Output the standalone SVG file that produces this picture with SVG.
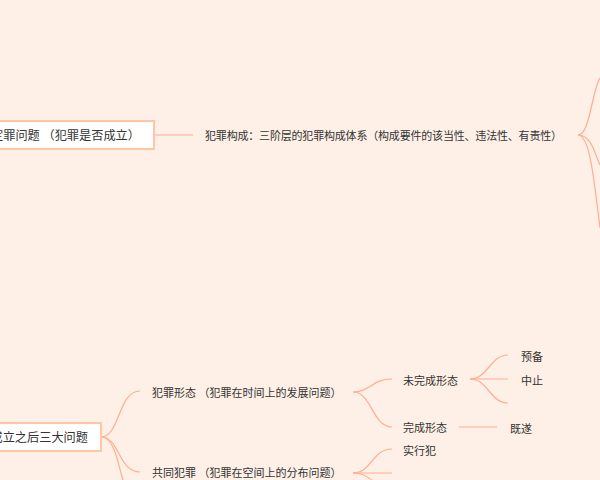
<svg xmlns="http://www.w3.org/2000/svg" width="600" height="480" viewBox="0 0 600 480">
<style>
.t{font-family:"Noto Sans CJK SC","Liberation Sans",sans-serif;font-size:11px;fill:#333;dominant-baseline:central}
.b{font-size:12.2px}
.box{fill:#fff;stroke:#ffc5a5;stroke-width:2}
.c path{fill:none;stroke:#fdae91;stroke-width:1.2}
</style>
<rect width="600" height="480" fill="#fef0e6"/>
<g class="c" id="connectors">
<path d="M154,135H193"/>
<path d="M578,135C590,135 592,90 600,78"/>
<path d="M578,135C592,135 595,155 600,165"/>
<path d="M578,135C590,135 594,180 600,228"/>
<path d="M101,437C120,437 118,391 140,391"/>
<path d="M101,437C120,437 118,472 140,472"/>
<path d="M101,437C115,437 118,465 123,480"/>
<path d="M353,392C370,392 372,379 392,379"/>
<path d="M353,392C372,392 372,427 392,427"/>
<path d="M470,379C488,379 490,355 508,355"/>
<path d="M470,379H508"/>
<path d="M470,379C488,379 490,403 508,403"/>
<path d="M459,427H497"/>
<path d="M353,473C372,473 372,449 392,449"/>
<path d="M353,473H392"/>
<path d="M353,473C365,473 368,478 372,480"/>
</g>
<g id="n1"><rect class="box" x="-20" y="121" width="174" height="28"/><text class="t b" x="140" y="135" text-anchor="end">定罪问题 （犯罪是否成立）</text></g>
<g id="n2"><text class="t" x="205" y="135" textLength="357" lengthAdjust="spacing">犯罪构成：三阶层的犯罪构成体系（构成要件的该当性、违法性、有责性）</text></g>
<g id="n3"><rect class="box" x="-20" y="423" width="121" height="28"/><text class="t b" x="88" y="437" text-anchor="end">犯罪成立之后三大问题</text></g>
<g id="n4"><text class="t" x="152" y="392">犯罪形态 （犯罪在时间上的发展问题）</text></g>
<g id="n5"><text class="t" x="152" y="472">共同犯罪 （犯罪在空间上的分布问题）</text></g>
<g id="n6"><text class="t" x="403" y="380">未完成形态</text></g>
<g id="n7"><text class="t" x="403" y="427">完成形态</text></g>
<g id="n8"><text class="t" x="521" y="356">预备</text></g>
<g id="n9"><text class="t" x="521" y="380">中止</text></g>
<g id="n10"><text class="t" x="510" y="428">既遂</text></g>
<g id="n11"><text class="t" x="403" y="450">实行犯</text></g>
</svg>
